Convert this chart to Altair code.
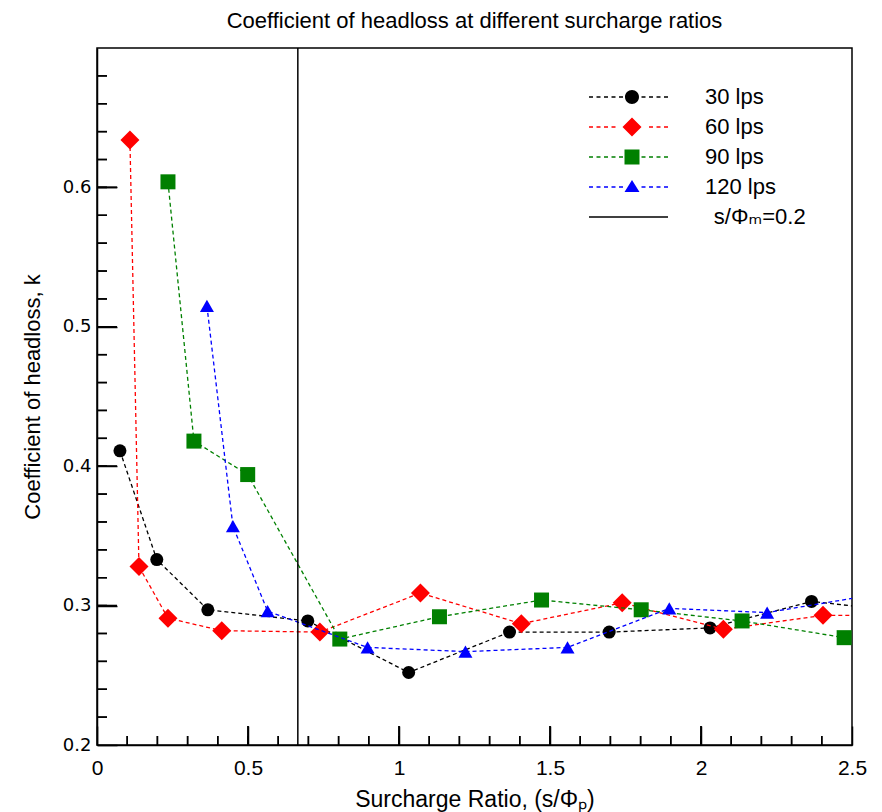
import altair as alt
import pandas as pd

# ---------------- data ----------------
series_names = ["30 lps", "60 lps", "90 lps", "120 lps"]
x30 = [0.076, 0.198, 0.367, 0.698, 1.032, 1.366, 1.696, 2.030, 2.366, 2.70]
y30 = [0.411, 0.333, 0.297, 0.289, 0.252, 0.281, 0.281, 0.284, 0.303, 0.295]
x60 = [0.109, 0.139, 0.235, 0.413, 0.738, 1.071, 1.405, 1.739, 2.074, 2.404, 2.74]
y60 = [0.634, 0.328, 0.291, 0.282, 0.281, 0.309, 0.287, 0.302, 0.283, 0.293, 0.293]
x90 = [0.235, 0.321, 0.499, 0.804, 1.134, 1.472, 1.802, 2.136, 2.474]
y90 = [0.604, 0.418, 0.394, 0.276, 0.292, 0.304, 0.297, 0.289, 0.277]
x120 = [0.364, 0.450, 0.565, 0.896, 1.220, 1.558, 1.895, 2.219, 2.55]
y120 = [0.515, 0.357, 0.296, 0.270, 0.267, 0.270, 0.298, 0.295, 0.307]
rule_x = [0.665]
rule_label = "\u2060\u2009\u2009s/\u03a6\u2098=0.2"

x_label_values = [0, 0.5, 1, 1.5, 2, 2.5]
y_label_values = [0.2, 0.3, 0.4, 0.5, 0.6]
x_major_ticks = [0.5, 1.0, 1.5, 2.0]
y_major_ticks = [0.3, 0.4, 0.5, 0.6]
x_minor_ticks = [round(0.1 * i, 2) for i in range(1, 25)]
y_minor_ticks = [round(0.2 + 0.02 * i, 2) for i in range(1, 25)]

# ---------------- style ----------------
colors = ["#000000", "#ff0000", "#008000", "#0000ff"]
shapes = ["circle", "diamond", "square", "triangle-up"]
sizes = [169, 361, 225, 196]
W, H = 755, 697

# legend symbols: dashed line + marker, as custom paths
S = 24
k = S / 2.0


def f(v):
    return f"{v / k:.3f}"


def rect(x0, x1, h):
    return f"M{f(x0)},{f(-h)}L{f(x1)},{f(-h)}L{f(x1)},{f(h)}L{f(x0)},{f(h)}Z"


def dashes(half):
    parts = []
    x = -43.0
    while x < 38:
        x1 = min(x + 4.0, 38.0)
        if x1 <= -half or x >= half:
            parts.append(rect(x, x1, 0.65))
        x += 7.5
    return "".join(parts)


r = 7.0
circle_p = f"M{f(-r)},0A{f(r)},{f(r)} 0 1,0 {f(r)},0A{f(r)},{f(r)} 0 1,0 {f(-r)},0Z"
d = 9.5
diamond_p = f"M0,{f(-d)}L{f(d)},0L0,{f(d)}L{f(-d)},0Z"
s = 7.5
square_p = f"M{f(-s)},{f(-s)}L{f(s)},{f(-s)}L{f(s)},{f(s)}L{f(-s)},{f(s)}Z"
triangle_p = f"M0,{f(-7)}L{f(7.5)},{f(5)}L{f(-7.5)},{f(5)}Z"

legend_names = series_names + [rule_label]
legend_colors = colors + ["#000000"]
legend_paths = [
    dashes(8) + circle_p,
    dashes(10) + diamond_p,
    dashes(8.5) + square_p,
    dashes(8.5) + triangle_p,
    rect(-43, 36, 0.8),
]

xscale = alt.Scale(domain=[0, 2.5], nice=False, zero=False)
yscale = alt.Scale(domain=[0.2, 0.7], nice=False, zero=False)

# axes carry the labels and the major ticks (drawn inward with a negative size)
label_x_axis = alt.Axis(
    orient="bottom", values=x_label_values, format="~g",
    ticks=True, tickSize=alt.ExprRef("-19"), tickColor="black", tickWidth=1.5,
    domain=True, domainColor="black", domainWidth=1.5,
    grid=True, gridOpacity=0,
    labelFont="Liberation Sans", labelFontSize=21, labelColor="black",
    labelPadding=31, labelFlush=False, labelOverlap=False,
    title="Surcharge Ratio, (s/\u03a6\u209a)", titleFont="Liberation Sans",
    titleFontSize=23, titleFontWeight="normal", titleColor="black", titlePadding=10,
)
label_y_axis = alt.Axis(
    orient="left", values=y_label_values, format="~g",
    ticks=True, tickSize=alt.ExprRef("-20"), tickColor="black", tickWidth=1.5,
    domain=True, domainColor="black", domainWidth=1.5,
    grid=True, gridOpacity=0,
    labelFont="DejaVu Sans", labelFontSize=18, labelColor="black",
    labelPadding=26, labelFlush=False, labelOverlap=False,
    title="Coefficient of headloss, k", titleFont="Liberation Sans",
    titleFontSize=22, titleFontWeight="normal", titleColor="black", titlePadding=18,
)


def X(field):
    return alt.X(field, scale=xscale, axis=label_x_axis)


def Y(field):
    return alt.Y(field, scale=yscale, axis=label_y_axis)


xs = [x30, x60, x90, x120]
ys = [y30, y60, y90, y120]

layers = []
for i, name in enumerate(series_names):
    df = pd.DataFrame({"x": xs[i], "y": ys[i]})
    line = alt.Chart(df).mark_line(
        color=colors[i], strokeDash=[4, 3], strokeWidth=1.3, clip=True
    ).encode(x=X("x:Q"), y=Y("y:Q"))
    pts = alt.Chart(df).mark_point(
        shape=shapes[i], filled=True, color=colors[i], size=sizes[i], opacity=1, clip=True
    ).encode(x=X("x:Q"), y=Y("y:Q"))
    layers += [line, pts]

# inward tick marks on the bottom and left frame edges, placed through the scales
for vals, length in [(x_major_ticks, 19), (x_minor_ticks, 9)]:
    tdf = pd.DataFrame({"x": vals})
    layers.append(
        alt.Chart(tdf).mark_tick(
            orient="vertical", color="black", thickness=1.5, size=length, opacity=1, filled=True
        ).encode(x=X("x:Q"), y=alt.value(H - length / 2.0))
    )
    layers.append(
        alt.Chart(tdf).mark_rule(color="black", strokeWidth=1.5).encode(
            x=X("x:Q"), y=alt.value(H), y2=alt.value(H - length),
        )
    )
for vals, length in [(y_major_ticks, 20), (y_minor_ticks, 10)]:
    tdf = pd.DataFrame({"y": vals})
    layers.append(
        alt.Chart(tdf).mark_tick(
            orient="horizontal", color="black", thickness=1.5, size=length, opacity=1, filled=True
        ).encode(y=Y("y:Q"), x=alt.value(length / 2.0))
    )
    layers.append(
        alt.Chart(tdf).mark_rule(color="black", strokeWidth=1.5).encode(
            y=Y("y:Q"), x=alt.value(0), x2=alt.value(length),
        )
    )

rule = alt.Chart(pd.DataFrame({"x": rule_x})).mark_rule(
    color="black", strokeWidth=1.5
).encode(x=X("x:Q"))
layers.append(rule)

leg = alt.Legend(
    title=None, orient="none", legendX=523, legendY=37, padding=0,
    symbolSize=S * S, symbolStrokeWidth=0, symbolOpacity=1,
    labelFont="Liberation Sans, DejaVu Sans", labelFontSize=22, labelColor="black",
    labelOffset=61, rowPadding=7, labelLimit=300,
)
legend_layer = alt.Chart(pd.DataFrame({"name": legend_names})).transform_filter(
    "false"
).mark_point(filled=True, opacity=1).encode(
    color=alt.Color("name:N", scale=alt.Scale(domain=legend_names, range=legend_colors), legend=leg),
    shape=alt.Shape("name:N", scale=alt.Scale(domain=legend_names, range=legend_paths), legend=leg),
)
layers.append(legend_layer)

chart = alt.layer(*layers).properties(
    width=W, height=H,
    title=alt.TitleParams(
        text="Coefficient of headloss at different surcharge ratios",
        font="Liberation Sans", fontSize=22, fontWeight="normal", color="black",
        anchor="middle", offset=14,
    ),
    padding={"left": 89, "top": 40, "right": 22, "bottom": 67},
    autosize=alt.AutoSizeParams(type="none"),
).configure_view(stroke="black", strokeWidth=1.5)

chart.save("out.html", embed_options={"renderer": "svg", "actions": False})
